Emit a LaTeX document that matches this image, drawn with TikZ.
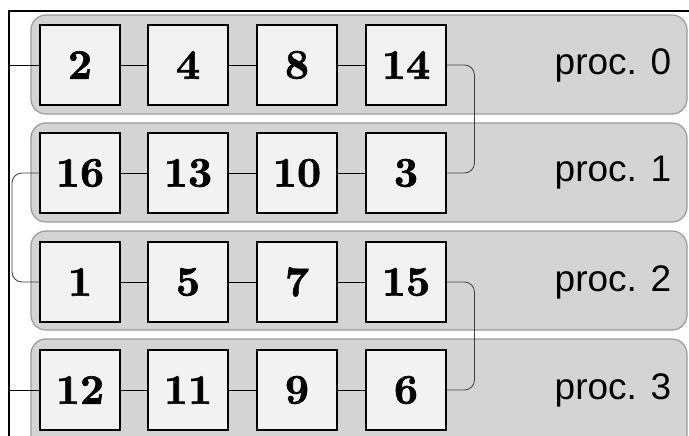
\documentclass[tikz,border=0pt]{standalone}
\usepackage{fontspec}
\newfontfamily\procfont{Liberation Sans}
\newfontfamily\numfont[Extension=.otf,UprightFont=*,FakeBold=1.6]{lmroman10-bold}
\definecolor{rowgray}{HTML}{D4D4D4}
\definecolor{rowedge}{HTML}{9A9A9A}
\definecolor{cellfill}{HTML}{F2F2F2}
\begin{document}
\begin{tikzpicture}[x=1pt,y=-1pt,
  rowbox/.style={fill=rowgray,draw=rowedge,line width=1.2pt,rounded corners=15pt},
  cell/.style={draw=black,fill=cellfill,line width=1.6pt,minimum width=80pt,minimum height=80pt,inner sep=0pt,
    font=\numfont\fontsize{42}{46}\selectfont},
  proclabel/.style={font=\procfont\fontsize{37}{40}\selectfont,anchor=center},
  link/.style={draw=black,line width=0.8pt},
  wrap/.style={draw=black!75,line width=0.8pt,rounded corners=10pt},
  frame/.style={draw=black,line width=2pt}]
\useasboundingbox (0,0) rectangle (689,436);
% frame
\coordinate (ftr) at (689,11);
\coordinate (ftl) at (9,11);
\coordinate (fbl) at (9,440);
\draw[frame] (ftr) -- (ftl) -- (fbl);
% rows
\draw[rowbox] (31,15) rectangle (687,114);
\draw[rowbox] (31,123) rectangle (687,222);
\draw[rowbox] (31,231) rectangle (687,330);
\draw[rowbox] (31,339) rectangle (687,450);
% row 0
\node[cell] (n2)  at (80,65) {2};
\node[cell] (n4)  at (188,65) {4};
\node[cell] (n8)  at (297,65) {8};
\node[cell] (n14) at (406,65) {14};
\node[proclabel] (p0) at (613,65) {proc. 0};
% row 1
\node[cell] (n16) at (80,173) {16};
\node[cell] (n13) at (188,173) {13};
\node[cell] (n10) at (297,173) {10};
\node[cell] (n3)  at (406,173) {3};
\node[proclabel] (p1) at (613,173) {proc. 1};
% row 2
\node[cell] (n1)  at (80,282) {1};
\node[cell] (n5)  at (188,282) {5};
\node[cell] (n7)  at (297,282) {7};
\node[cell] (n15) at (406,282) {15};
\node[proclabel] (p2) at (613,282) {proc. 2};
% row 3
\node[cell] (n12) at (80,390) {12};
\node[cell] (n11) at (188,390) {11};
\node[cell] (n9)  at (297,390) {9};
\node[cell] (n6)  at (406,390) {6};
\node[proclabel] (p3) at (613,390) {proc. 3};
% horizontal links
\draw[link] (n2) -- (n4); \draw[link] (n4) -- (n8); \draw[link] (n8) -- (n14);
\draw[link] (n16) -- (n13); \draw[link] (n13) -- (n10); \draw[link] (n10) -- (n3);
\draw[link] (n1) -- (n5); \draw[link] (n5) -- (n7); \draw[link] (n7) -- (n15);
\draw[link] (n12) -- (n11); \draw[link] (n11) -- (n9); \draw[link] (n9) -- (n6);
% free ends at the frame
\coordinate (in0) at (10,65);
\coordinate (in3) at (10,390);
\draw[link] (in0) -- (n2.west);
\draw[link] (in3) -- (n12.west);
% wrap-around links
\draw[wrap] (n14.east) -| (474.5,120) |- (n3.east);
\draw[wrap] (n15.east) -| (474.5,336) |- (n6.east);
\draw[wrap] (n16.west) -| (12,228) |- (n1.west);
\end{tikzpicture}
\end{document}
